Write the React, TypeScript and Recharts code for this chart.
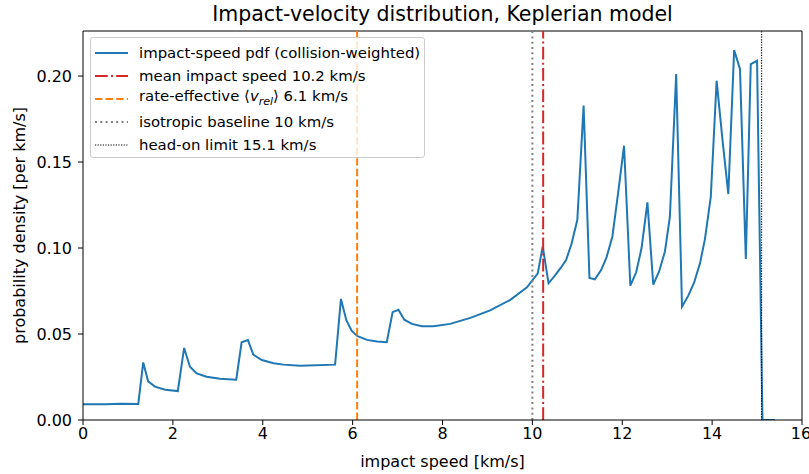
import React from "react";
import {
  LineChart,
  Line,
  XAxis,
  YAxis,
  ReferenceLine,
  Label,
} from "recharts";

// impact speed [km/s] and pdf [per km/s]
const speed = [
  0.0, 0.5, 0.85, 1.23, 1.34, 1.45, 1.6, 1.83, 2.11, 2.25, 2.38, 2.53, 2.75,
  3.05, 3.41, 3.53, 3.67, 3.79, 3.98, 4.24, 4.46, 4.83, 5.61, 5.74, 5.86, 5.98,
  6.11, 6.32, 6.54, 6.76, 6.89, 7.02, 7.15, 7.32, 7.54, 7.8, 8.17, 8.62, 9.06,
  9.51, 9.88, 10.12, 10.23, 10.36, 10.5, 10.63, 10.75, 10.87, 11.0, 11.14,
  11.27, 11.39, 11.53, 11.65, 11.78, 11.91, 12.04, 12.18, 12.31, 12.43, 12.56,
  12.69, 12.82, 12.95, 13.06, 13.2, 13.33, 13.47, 13.6, 13.73, 13.84, 13.97,
  14.1, 14.23, 14.36, 14.49, 14.62, 14.75, 14.86, 15.0, 15.12, 15.4,
];
const pdf = [
  0.0092, 0.0092, 0.0094, 0.0093, 0.0335, 0.0225, 0.0194, 0.0176, 0.0168,
  0.0419, 0.031, 0.0271, 0.0252, 0.024, 0.0234, 0.0452, 0.0465, 0.038, 0.0349,
  0.033, 0.0322, 0.0316, 0.0322, 0.0704, 0.058, 0.0518, 0.0487, 0.0466, 0.0456,
  0.0452, 0.0627, 0.0641, 0.0583, 0.0559, 0.0545, 0.0545, 0.0559, 0.0594,
  0.0637, 0.0699, 0.0772, 0.0853, 0.101, 0.0795, 0.0839, 0.0884, 0.093, 0.1023,
  0.1163, 0.1828, 0.0826, 0.0818, 0.0872, 0.0946, 0.1066, 0.1324, 0.1595,
  0.0781, 0.0859, 0.1, 0.1266, 0.0787, 0.0864, 0.098, 0.1182, 0.2012, 0.0659,
  0.0723, 0.08, 0.0911, 0.1052, 0.1298, 0.1973, 0.163, 0.1314, 0.2151, 0.2041,
  0.0936, 0.207, 0.2089, 0, 0,
];

const xTicks = [0, 2, 4, 6, 8, 10, 12, 14, 16];
const yTicks = [0, 0.05, 0.1, 0.15, 0.2];

const meanSpeed = 10.24;
const rateEffective = 6.1;
const isotropic = 10;
const headOn = 15.1;

const data = speed.map((v, i) => ({ v, p: pdf[i] }));

const FONT = "DejaVu Sans";
const YMAX = 0.2262;
const TICK_FS = 16;

const DASH_MEAN = "12.8 3.2 2 3.2";
const DASH_RATE = "7.4 3.2";
const DASH_ISO = "2 3.3";
const DASH_HEAD = "1.2 1.4";

const legendRows = [
  { color: "#1f77b4", dash: undefined, width: 2, label: <>impact-speed pdf (collision-weighted)</> },
  { color: "#d62728", dash: DASH_MEAN, width: 2, label: <>mean impact speed 10.2 km/s</> },
  {
    color: "#ff7f0e",
    dash: DASH_RATE,
    width: 2,
    label: (
      <>
        rate-effective ⟨<i>v</i>
        <sub style={{ fontSize: 11, fontStyle: "italic" }}>rel</sub>⟩ 6.1 km/s
      </>
    ),
  },
  { color: "#808080", dash: DASH_ISO, width: 2, label: <>isotropic baseline 10 km/s</> },
  { color: "#000000", dash: DASH_HEAD, width: 1.2, label: <>head-on limit 15.1 km/s</> },
];

function LegendBox() {
  return (
    <div
      style={{
        position: "absolute",
        left: 90,
        top: 37,
        width: 335,
        height: 121,
        boxSizing: "border-box",
        background: "rgba(255,255,255,0.8)",
        border: "1px solid #cccccc",
        borderRadius: 3,
        padding: "3px 0 0 4px",
        fontFamily: FONT,
        fontSize: 14.9,
        color: "#000",
      }}
    >
      {legendRows.map((r, i) => (
        <div key={i} style={{ display: "flex", alignItems: "center", height: 23, whiteSpace: "nowrap" }}>
          <svg width={33} height={10} style={{ marginRight: 11 }}>
            <line x1={0} x2={33} y1={5} y2={5} stroke={r.color} strokeWidth={r.width} strokeDasharray={r.dash} />
          </svg>
          <span style={{ lineHeight: "16px" }}>{r.label}</span>
        </div>
      ))}
    </div>
  );
}

export default function App() {
  return (
    <div style={{ position: "absolute", left: 0, top: 0, width: 809, height: 474, background: "#fff" }}>
      <div
        style={{
          position: "absolute",
          left: 83,
          width: 719,
          top: 2,
          textAlign: "center",
          fontFamily: FONT,
          fontSize: 20.5,
          color: "#000",
        }}
      >
        Impact-velocity distribution, Keplerian model
      </div>
      <LineChart
        width={809}
        height={474}
        data={data}
        margin={{ top: 31, right: 7, bottom: 0, left: 0 }}
        style={{ fontFamily: FONT }}
      >
        <XAxis
          type="number"
          dataKey="v"
          domain={[0, 16]}
          ticks={xTicks}
          allowDataOverflow
          height={54}
          tickSize={5}
          tickMargin={3}
          stroke="#000"
          tick={{ fill: "#000", fontSize: TICK_FS }}
        >
          <Label
            content={(p: any) => (
              <text
                x={p.viewBox.x + p.viewBox.width / 2}
                y={467}
                textAnchor="middle"
                fontSize={TICK_FS}
                fill="#000"
              >
                impact speed [km/s]
              </text>
            )}
          />
        </XAxis>
        <YAxis
          type="number"
          domain={[0, YMAX]}
          ticks={yTicks}
          allowDataOverflow
          width={83}
          tickSize={5}
          tickMargin={6}
          stroke="#000"
          tick={{ fill: "#000", fontSize: TICK_FS }}
          tickFormatter={(v: number) => v.toFixed(2)}
        >
          <Label
            content={(p: any) => {
              const cy = p.viewBox.y + p.viewBox.height / 2;
              return (
                <text
                  x={25}
                  y={cy}
                  transform={`rotate(-90, 25, ${cy})`}
                  textAnchor="middle"
                  fontSize={TICK_FS}
                  fill="#000"
                >
                  probability density [per km/s]
                </text>
              );
            }}
          />
        </YAxis>
        <ReferenceLine y={YMAX} stroke="#000" strokeWidth={1} />
        <ReferenceLine x={16} stroke="#000" strokeWidth={1} />
        <Line
          type="linear"
          dataKey="p"
          stroke="#1f77b4"
          strokeWidth={2}
          dot={false}
          isAnimationActive={false}
        />
        <ReferenceLine x={meanSpeed} stroke="#d62728" strokeWidth={2} strokeDasharray={DASH_MEAN} />
        <ReferenceLine x={rateEffective} stroke="#ff7f0e" strokeWidth={2} strokeDasharray={DASH_RATE} />
        <ReferenceLine x={isotropic} stroke="#808080" strokeWidth={2} strokeDasharray={DASH_ISO} />
        <ReferenceLine x={headOn} stroke="#000" strokeWidth={1.2} strokeDasharray={DASH_HEAD} />
      </LineChart>
      <LegendBox />
    </div>
  );
}
